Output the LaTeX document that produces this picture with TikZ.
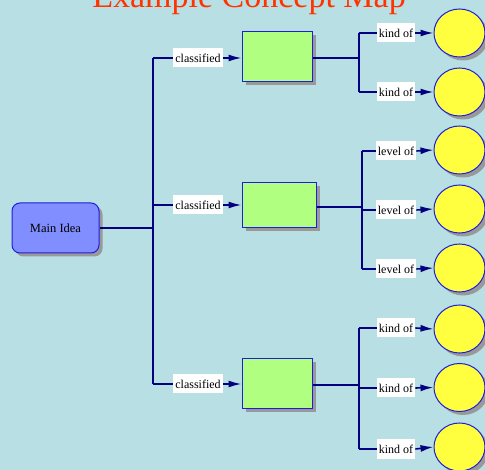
\documentclass[tikz,border=0pt]{standalone}
\usepackage{fontspec}
\setmainfont{Liberation Serif}
\usetikzlibrary{shadows,arrows.meta,shapes.geometric}
\definecolor{bgblue}{RGB}{184,223,227}
\definecolor{titlered}{RGB}{255,51,0}
\definecolor{ideablue}{RGB}{128,142,255}
\definecolor{edgeblue}{RGB}{30,30,220}
\definecolor{conceptgreen}{RGB}{176,255,128}
\definecolor{leafyellow}{RGB}{255,255,64}
\definecolor{linknavy}{RGB}{0,0,128}
\tikzset{
  shade3/.style={drop shadow={shadow xshift=3.5pt,shadow yshift=-3.5pt,fill=black!40,opacity=1}},
  idea/.style={draw=edgeblue,line width=1pt,fill=ideablue,rounded corners=8pt,
    minimum width=87pt,minimum height=50pt,inner sep=0pt,shade3,
    font=\fontsize{12.5}{14}\selectfont},
  concept/.style={draw=edgeblue,line width=1pt,fill=conceptgreen,inner sep=0pt,shade3},
  leaf/.style={ellipse,draw=edgeblue,line width=1pt,fill=leafyellow,
    minimum width=51pt,minimum height=48pt,inner sep=0pt,shade3},
  linklabel/.style={fill=white,inner xsep=2pt,inner ysep=0pt,minimum height=19pt,
    font=\fontsize{12}{14}\selectfont},
  link/.style={draw=linknavy,line width=1.2pt},
  thicklink/.style={draw=linknavy,line width=2pt},
  tolink/.style={draw=linknavy,line width=1.6pt,-{Latex[length=13pt,width=7pt]}},
}
\begin{document}
\begin{tikzpicture}[x=1pt,y=-1pt]
  \fill[bgblue] (0,0) rectangle (485,470);
  \useasboundingbox (0,0) rectangle (485,470);

  \node[anchor=base,text=titlered,font=\fontsize{34}{40}\selectfont] (title) at (249,8) {Example Concept Map};

  % main idea and the trunk that feeds the three concepts
  \node[idea] (main) at (55.5,228) {Main Idea};
  \coordinate (trunkTop) at (153,58);
  \coordinate (trunkMid) at (153,228);
  \coordinate (trunkMidB) at (153,205);
  \coordinate (trunkBot) at (153,384);
  \draw[thicklink] (main.east) -- (trunkMid);
  \draw[link,line join=miter] (trunkTop) -- (trunkBot);

  % concepts
  \node[concept,minimum width=70pt,minimum height=50pt] (c1) at (277,57) {};
  \node[concept,minimum width=74pt,minimum height=45pt] (c2) at (279,205.5) {};
  \node[concept,minimum width=70pt,minimum height=50pt] (c3) at (277,384) {};

  \node[linklabel] (l1) at (198,58) {classified};
  \node[linklabel] (l2) at (198,205) {classified};
  \node[linklabel] (l3) at (198,384) {classified};

  \draw[link] (trunkTop) -- (l1.west);
  \draw[link] (trunkMidB) -- (l2.west);
  \draw[link] (trunkBot) -- (l3.west);
  \draw[tolink] (l1.east) -- (c1.west |- l1.east);
  \draw[tolink] (l2.east) -- (c2.west |- l2.east);
  \draw[tolink] (l3.east) -- (c3.west |- l3.east);

  % first group: kind of
  \coordinate (s1) at (359,58);
  \coordinate (s1a) at (359,33);
  \coordinate (s1b) at (359,92);
  \draw[thicklink] (c1.east |- s1) -- (s1);
  \draw[thicklink] (s1a) -- (s1b);
  \node[linklabel] (k1) at (396,33) {kind of};
  \node[linklabel] (k2) at (396,92) {kind of};
  \node[leaf] (e1) at (459.5,33) {};
  \node[leaf] (e2) at (459.5,92) {};
  \draw[thicklink] (s1a) -- (k1.west);
  \draw[link] (s1b) -- (k2.west);
  \draw[tolink] (k1.east) -- (e1.west);
  \draw[tolink] (k2.east) -- (e2.west);

  % second group: level of
  \coordinate (s2) at (362,207);
  \coordinate (s2a) at (362,151);
  \coordinate (s2b) at (362,210);
  \coordinate (s2c) at (362,269);
  \draw[thicklink] (c2.east |- s2) -- (s2);
  \draw[thicklink] (s2a) -- (s2c);
  \node[linklabel] (v1) at (396,151) {level of};
  \node[linklabel] (v2) at (396,210) {level of};
  \node[linklabel] (v3) at (396,269) {level of};
  \node[leaf] (e3) at (459.5,150) {};
  \node[leaf] (e4) at (459.5,209) {};
  \node[leaf] (e5) at (459.5,268) {};
  \draw[thicklink] (s2a) -- (v1.west);
  \draw[thicklink] (s2b) -- (v2.west);
  \draw[link] (s2c) -- (v3.west);
  \draw[tolink] (v1.east) -- (e3.west);
  \draw[tolink] (v2.east) -- (e4.west);
  \draw[tolink] (v3.east) -- (e5.west);

  % third group: kind of
  \coordinate (s3) at (359,385);
  \coordinate (s3a) at (359,328);
  \coordinate (s3b) at (359,388);
  \coordinate (s3c) at (359,449);
  \draw[link] (c3.east |- s3) -- (s3);
  \draw[thicklink] (s3a) -- (s3c);
  \node[linklabel] (k3) at (396,328) {kind of};
  \node[linklabel] (k4) at (396,388) {kind of};
  \node[linklabel] (k5) at (396,449) {kind of};
  \node[leaf] (e6) at (459.5,329) {};
  \node[leaf] (e7) at (459.5,387.5) {};
  \node[leaf] (e8) at (459.5,447) {};
  \draw[thicklink] (s3a) -- (k3.west);
  \draw[thicklink] (s3b) -- (k4.west);
  \draw[link] (s3c) -- (k5.west);
  \draw[tolink] (k3.east) -- (e6.west);
  \draw[tolink] (k4.east) -- (e7.west);
  \draw[tolink] (k5.east) -- (e8.west);
\end{tikzpicture}
\end{document}
